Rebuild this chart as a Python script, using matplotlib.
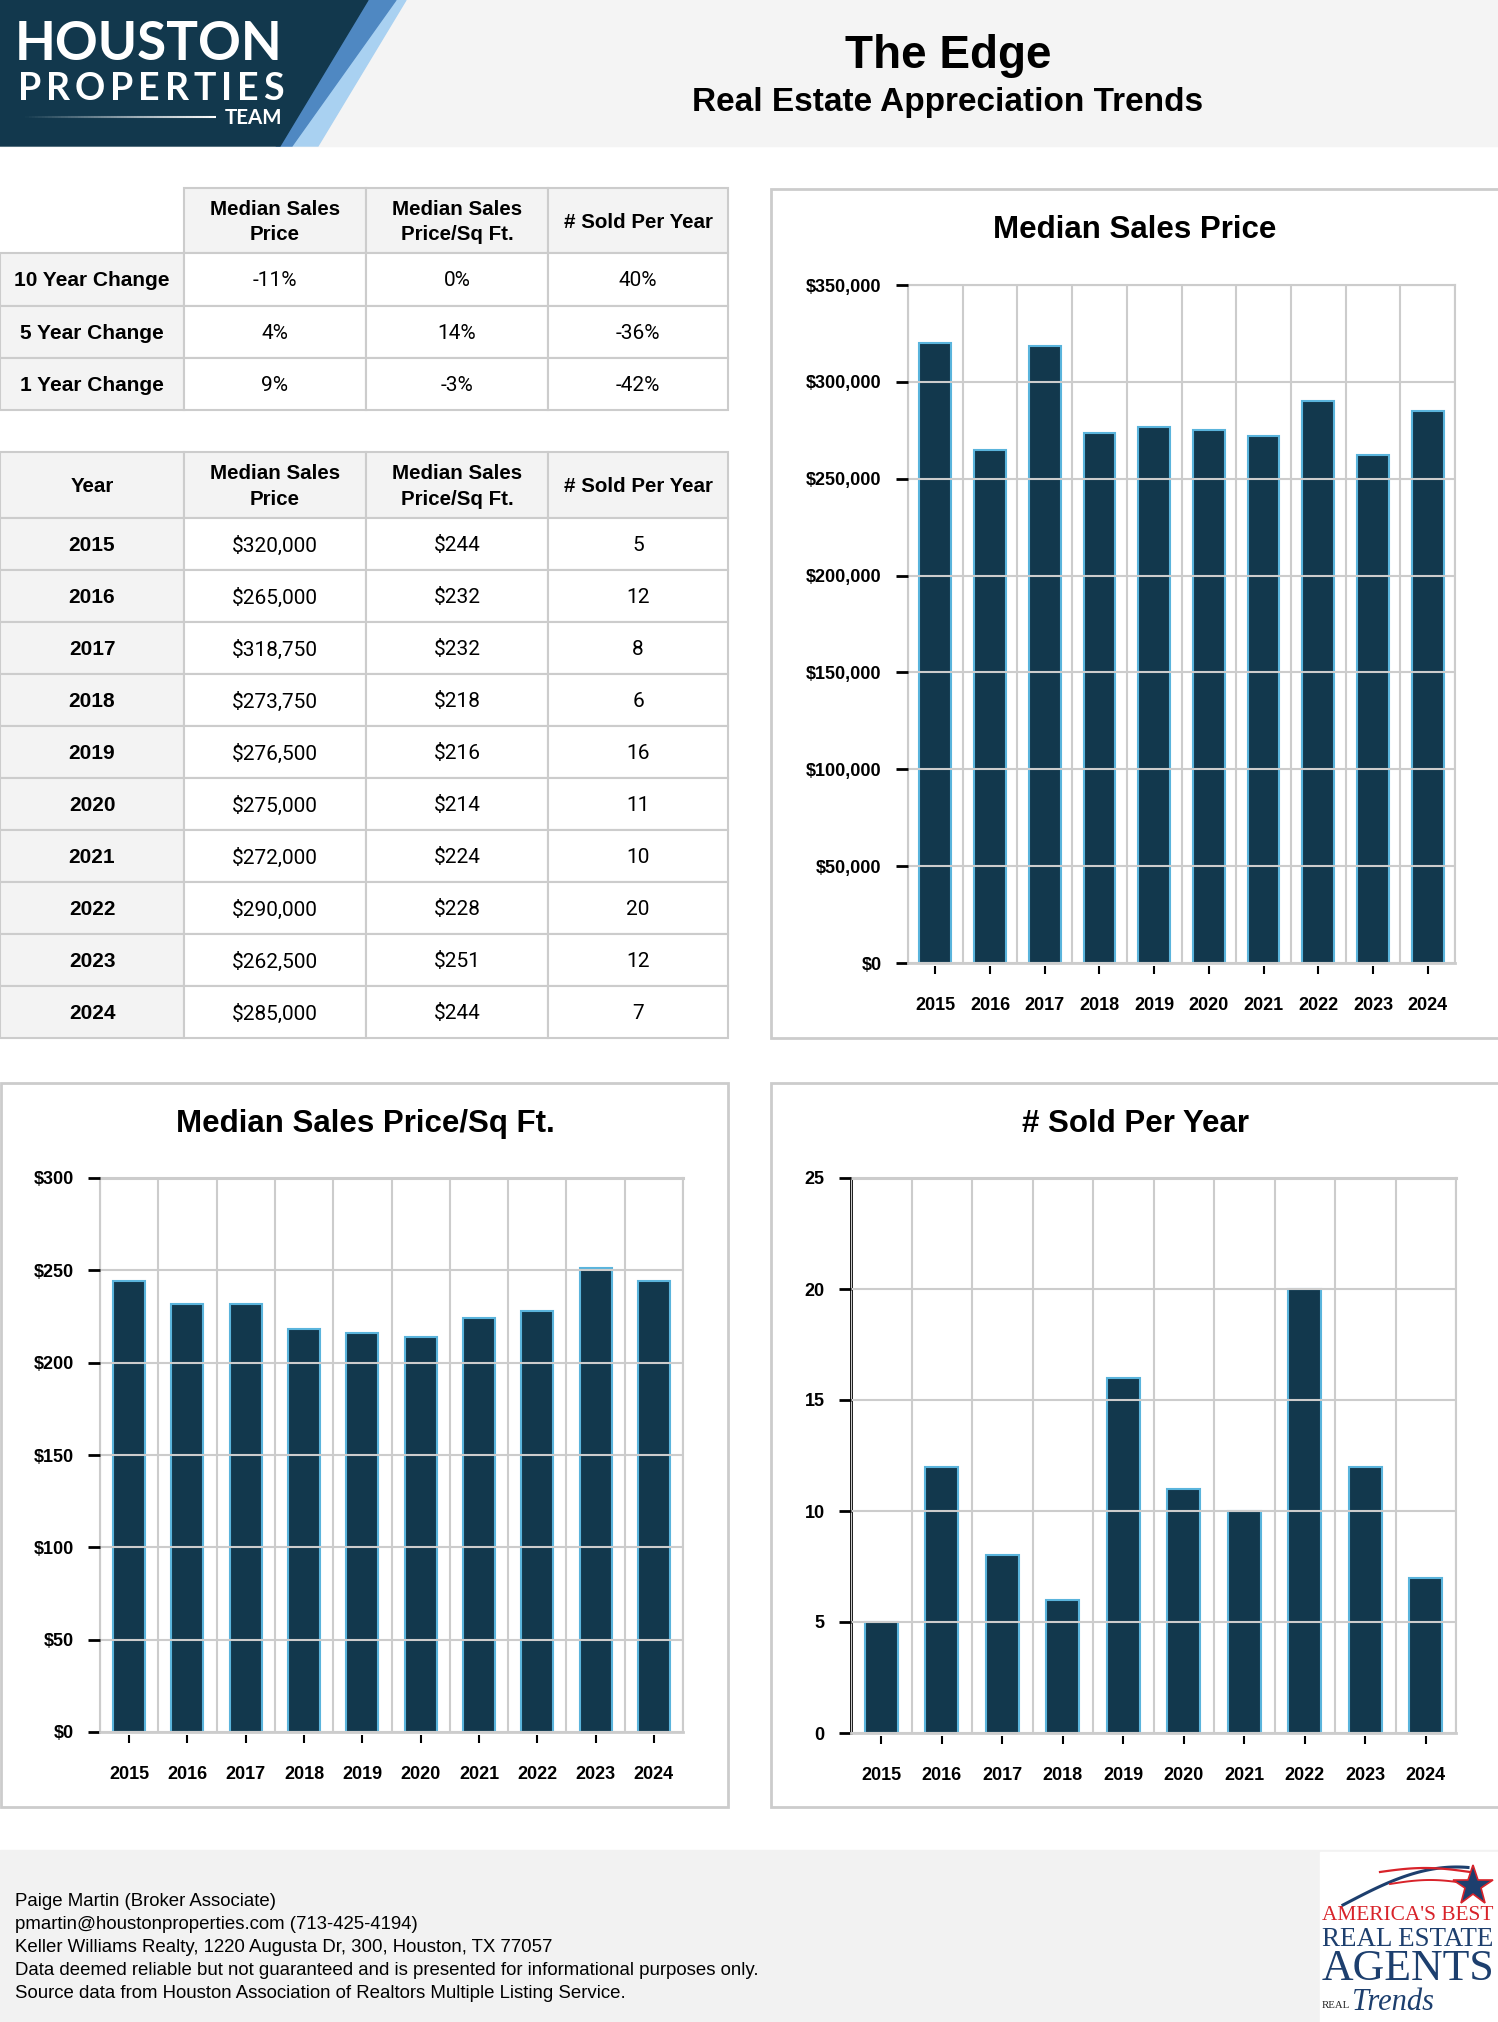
import numpy as np
import matplotlib
matplotlib.use("Agg")
import matplotlib.pyplot as plt
from matplotlib.patches import Rectangle, Polygon
from matplotlib.collections import LineCollection

W, H = 1498, 2022
NAVY = "#12384d"
EDGE = "#5ab4dc"
GRID = "#cccccc"
CELL_GRAY = "#f3f3f3"
SANS = ["Liberation Sans", "DejaVu Sans"]
SERIF = ["Liberation Serif", "DejaVu Serif"]

# --- data -------------------------------------------------------------
years = [2015, 2016, 2017, 2018, 2019, 2020, 2021, 2022, 2023, 2024]
median_price = [320000, 265000, 318750, 273750, 276500, 275000, 272000, 290000, 262500, 285000]
price_sqft = [244, 232, 232, 218, 216, 214, 224, 228, 251, 244]
sold_per_year = [5, 12, 8, 6, 16, 11, 10, 20, 12, 7]

change_labels = ["10 Year Change", "5 Year Change", "1 Year Change"]
change_price = ["-11%", "4%", "9%"]
change_sqft = ["0%", "14%", "-3%"]
change_sold = ["40%", "-36%", "-42%"]

col_headers = ["Median Sales\nPrice", "Median Sales\nPrice/Sq Ft.", "# Sold Per Year"]

footer_lines = [
    "Paige Martin (Broker Associate)",
    "pmartin@houstonproperties.com (713-425-4194)",
    "Keller Williams Realty, 1220 Augusta Dr, 300, Houston, TX 77057",
    "Data deemed reliable but not guaranteed and is presented for informational purposes only.",
    "Source data from Houston Association of Realtors Multiple Listing Service.",
]

plt.rcParams["font.family"] = SANS
# tick labels are built at draw time, so bold has to be the default;
# every other text sets its own weight
plt.rcParams["font.weight"] = "bold"

fig = plt.figure(figsize=(W / 100, H / 100), dpi=100)
bg = fig.add_axes([0, 0, 1, 1])
bg.set_xlim(0, W)
bg.set_ylim(H, 0)
bg.axis("off")
renderer = fig.canvas.get_renderer()


def px_axes(x0, y0, x1, y1):
    return fig.add_axes([x0 / W, 1 - y1 / H, (x1 - x0) / W, (y1 - y0) / H])


def fit_text(t, width):
    bb = t.get_window_extent(renderer)
    t.set_fontsize(t.get_fontsize() * width / bb.width)
    return t


def tracked_text(x0, x1, y, s, **kw):
    texts = [bg.text(0, y, ch, ha="left", va="center", **kw) for ch in s]
    widths = [t.get_window_extent(renderer).width for t in texts]
    gap = (x1 - x0 - sum(widths)) / (len(s) - 1)
    x = x0
    for t, w in zip(texts, widths):
        t.set_x(x)
        x += w + gap


# --- header -----------------------------------------------------------
bg.add_patch(Rectangle((0, 0), W, 146, color="#f4f4f4", zorder=0))
bg.add_patch(Polygon([(358, 0), (406, 0), (318, 146), (276, 146)], color="#a9d1f1", zorder=1))
bg.add_patch(Polygon([(358, 0), (396, 0), (292, 146), (276, 146)], color="#4f88c2", zorder=1))
bg.add_patch(Polygon([(0, 0), (368, 0), (280, 146), (0, 146)], color=NAVY, zorder=2))

t = bg.text(15, 45, "HOUSTON", color="white", fontsize=40, family=["Lato", "DejaVu Sans"],
            weight="bold", ha="left", va="center", zorder=3)
fit_text(t, 268)
tracked_text(18, 284, 89, "PROPERTIES", color="white", fontsize=27,
             family=["Lato", "DejaVu Sans"], weight="bold", zorder=3)
t = bg.text(225, 118, "TEAM", color="white", fontsize=16, family=["Lato", "DejaVu Sans"],
            weight="bold", ha="left", va="center", zorder=3)
fit_text(t, 58)
gx = np.linspace(22, 216, 60)
segs = [[(gx[i], 117), (gx[i + 1], 117)] for i in range(len(gx) - 1)]
cols = [(1, 1, 1, a) for a in np.linspace(0.0, 1.0, len(segs))]
bg.add_collection(LineCollection(segs, colors=cols, linewidths=1.5, zorder=3))

bg.text(948, 56, "The Edge", fontsize=33, weight="bold", ha="center", va="center")
bg.text(948, 102, "Real Estate Appreciation Trends", fontsize=24, weight="bold",
        ha="center", va="center")


# --- tables -----------------------------------------------------------
def cell(x0, y0, x1, y1, text, fill="white", bold=False, size=15, family=SANS, border=True):
    bg.add_patch(Rectangle((x0, y0), x1 - x0, y1 - y0, facecolor=fill,
                           edgecolor=GRID if border else "none", linewidth=1.5, zorder=1))
    if text:
        bg.text((x0 + x1) / 2, (y0 + y1) / 2 + 1.5, text, ha="center", va="center",
                fontsize=size, weight="bold" if bold else "normal", family=family,
                linespacing=1.45, zorder=2)


col_x = [0, 184, 366, 548, 728]
val_font = ["Roboto", "DejaVu Sans"]

# change table
t1_y = [188, 253, 306, 358, 410]
cell(col_x[0], t1_y[0], col_x[1], t1_y[1], "", border=False)
for j, hdr in enumerate(col_headers):
    cell(col_x[j + 1], t1_y[0], col_x[j + 2], t1_y[1], hdr, fill=CELL_GRAY, bold=True, size=14.8)
for i, lab in enumerate(change_labels):
    y0, y1 = t1_y[i + 1], t1_y[i + 2]
    cell(col_x[0], y0, col_x[1], y1, lab, fill=CELL_GRAY, bold=True, size=15)
    for j, vals in enumerate([change_price, change_sqft, change_sold]):
        cell(col_x[j + 1], y0, col_x[j + 2], y1, vals[i], size=15, family=val_font)

# yearly table
t2_y = [452] + list(np.linspace(518, 1038, len(years) + 1))
cell(col_x[0], t2_y[0], col_x[1], t2_y[1], "Year", fill=CELL_GRAY, bold=True, size=14.8)
for j, hdr in enumerate(col_headers):
    cell(col_x[j + 1], t2_y[0], col_x[j + 2], t2_y[1], hdr, fill=CELL_GRAY, bold=True, size=14.8)
for i, yr in enumerate(years):
    y0, y1 = t2_y[i + 1], t2_y[i + 2]
    cell(col_x[0], y0, col_x[1], y1, str(yr), fill=CELL_GRAY, bold=True, size=15)
    row = [f"${median_price[i]:,}", f"${price_sqft[i]}", str(sold_per_year[i])]
    for j, v in enumerate(row):
        cell(col_x[j + 1], y0, col_x[j + 2], y1, v, size=15, family=val_font)


# --- charts -----------------------------------------------------------
def panel(x0, y0, x1, y1):
    bg.add_patch(Rectangle((x0, y0), x1 - x0, y1 - y0, fill=False, edgecolor=GRID,
                           linewidth=2, zorder=1))


def bar_chart(rect, values, ymax, step, fmt, barw, top_lw=1.5, dark_left=False):
    ax = px_axes(*rect)
    x = np.arange(len(years))
    ax.bar(x, values, width=barw, color=NAVY, edgecolor=EDGE, linewidth=1.5, zorder=1)
    ax.set_xlim(-0.5, len(years) - 0.5)
    ax.set_ylim(0, ymax)
    yt = np.arange(0, ymax + step, step)
    ax.set_yticks(yt, labels=[fmt(v) for v in yt])
    ax.set_xticks(x, labels=[str(y) for y in years])
    ax.set_xticks(np.arange(-0.5, len(years)), minor=True)
    ax.set_axisbelow(False)
    ax.grid(which="minor", axis="x", color=GRID, linewidth=1.5)
    ax.grid(which="major", axis="y", color=GRID, linewidth=1.5)
    ax.grid(which="major", axis="x", visible=False)
    ax.tick_params(which="minor", length=0)
    ax.tick_params(axis="x", which="major", length=6, width=1.5, color="black", pad=16,
                   labelsize=13)
    ax.tick_params(axis="y", which="major", length=9, width=2, color="black", pad=10,
                   labelsize=13)
    ax.spines["bottom"].set_position(("outward", 2.5))
    ax.spines["bottom"].set_color("none")
    ax.axhline(0, color=GRID, linewidth=2, clip_on=False, zorder=2.6)
    ax.spines["top"].set_color(GRID)
    ax.spines["top"].set_linewidth(top_lw)
    ax.spines["right"].set_color(GRID)
    ax.spines["right"].set_linewidth(1.5)
    if dark_left:
        ax.spines["left"].set_color("black")
        ax.spines["left"].set_linewidth(2)
    else:
        ax.spines["left"].set_color(GRID)
        ax.spines["left"].set_linewidth(1.5)
    ax.patch.set_alpha(0)
    return ax


panel(771, 189, 1499, 1038)
panel(1, 1083, 728, 1807)
panel(771, 1083, 1499, 1807)

bg.text(1135, 230, "Median Sales Price", fontsize=22.5, weight="bold", ha="center", va="center")
bg.text(365, 1124, "Median Sales Price/Sq Ft.", fontsize=22.5, weight="bold", ha="center", va="center")
bg.text(1136, 1124, "# Sold Per Year", fontsize=22.5, weight="bold", ha="center", va="center")

bar_chart((908, 285, 1455, 963), median_price, 350000, 50000,
          lambda v: f"${v:,.0f}", 0.58)
bar_chart((100, 1178, 683, 1732), price_sqft, 300, 50,
          lambda v: f"${v:,.0f}", 0.55, top_lw=2.2)
bar_chart((851, 1178, 1456, 1733), sold_per_year, 25, 5,
          lambda v: f"{v:.0f}", 0.54, top_lw=2.2, dark_left=True)

# --- footer -----------------------------------------------------------
bg.add_patch(Rectangle((0, 1850), W, H - 1850, color="#f2f2f2", zorder=0))
for i, line in enumerate(footer_lines):
    bg.text(15, 1902 + i * 22.8, line, fontsize=13.4, weight="normal", ha="left", va="center")

# award badge
bg.add_patch(Rectangle((1320, 1852), W - 1320, H - 1852, color="white", zorder=1))
ax_t = np.linspace(0, 1, 80)
sx = 1343 + ax_t * 125
bg.plot(sx, 1905 - 38 * np.sin(ax_t * np.pi * 0.55), color="#1d3f6e", lw=2.2, zorder=2)
bg.plot(1380 + ax_t * 90, 1872 - 4 * np.sin(ax_t * np.pi), color="#d8232a", lw=1.6, zorder=2)
bg.plot(1390 + ax_t * 80, 1884 - 4 * np.sin(ax_t * np.pi), color="#d8232a", lw=1.4, zorder=2)
bg.plot(1473, 1886, marker="*", markersize=30, color="#1d3f6e", mec="#d8232a", mew=1.2, zorder=3)
logo_kw = dict(family=SERIF, weight="normal", ha="left", va="center", zorder=3)
t = bg.text(1322, 1916, "AMERICA'S BEST", color="#d8232a", fontsize=12, **logo_kw)
fit_text(t, 171)
t = bg.text(1322, 1939, "REAL ESTATE", color="#1d3f6e", fontsize=14, **logo_kw)
fit_text(t, 173)
t = bg.text(1322, 1969, "AGENTS", color="#1d3f6e", fontsize=24, **logo_kw)
fit_text(t, 173)
t = bg.text(1322, 2005, "REAL", color="#222222", fontsize=9, **logo_kw)
fit_text(t, 28)
bg.text(1352, 2003, "Trends", color="#1d3f6e", fontsize=22, style="italic", **logo_kw)

fig.savefig("out.png", dpi=100)
